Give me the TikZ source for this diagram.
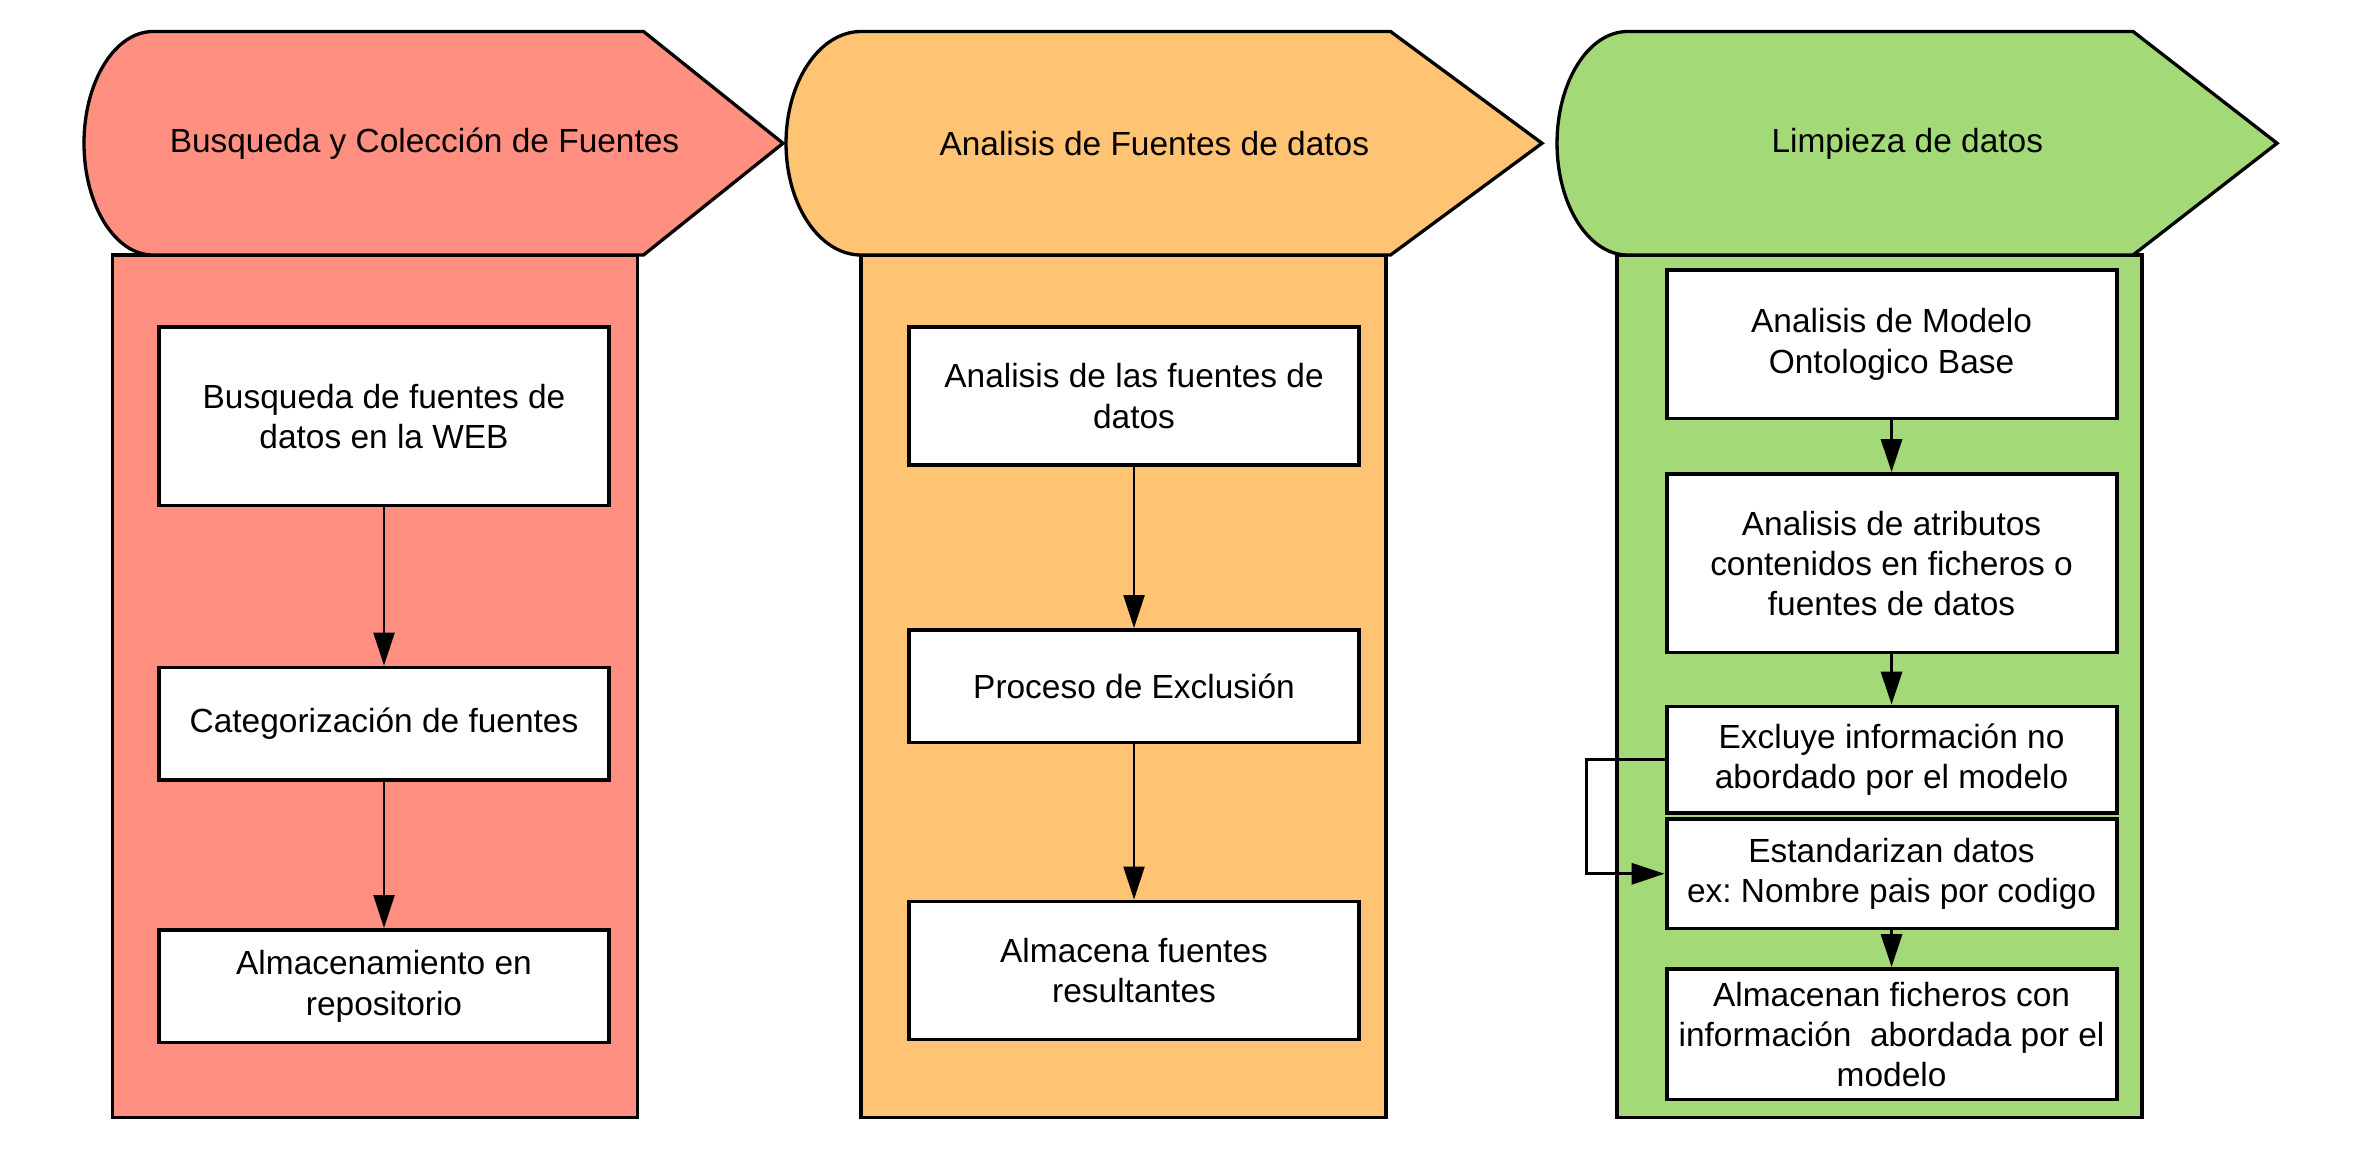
\documentclass[tikz,border=0pt]{standalone}
\usepackage{fontspec}
\setmainfont{Liberation Sans}
\usetikzlibrary{arrows.meta}
\definecolor{cred}{HTML}{FF8F80}
\definecolor{corange}{HTML}{FFC374}
\definecolor{cgreen}{HTML}{A3D977}
\frenchspacing
\begin{document}
\begin{tikzpicture}[x=1pt,y=-1pt,
  every node/.style={font=\fontsize{22.3}{26.8}\selectfont},
  procbox/.style={draw, line width=2.6pt, fill=white, minimum width=300pt, inner sep=0pt, align=center},
  hdr/.style={draw, line width=2.2pt, line join=miter},
  panel/.style={draw, line width=2.2pt},
  flow/.style={-{Triangle[length=22pt,width=14pt]}, line width=1.5pt},
  gflow/.style={flow, line width=2.2pt}]
\useasboundingbox (0,0) rectangle (1569.3,766);
% panels
\draw[panel, fill=cred] (75,170) rectangle (425,745);
\draw[panel, fill=corange] (574,170) rectangle (924,745);
\draw[panel, fill=cgreen] (1078,170) rectangle (1428,745);
% headers
\draw[hdr, fill=cred] (102,21) -- (429,21) -- (522,95.5) -- (429,170) -- (102,170)
  arc[start angle=90, end angle=270, x radius=46, y radius=74.5] -- cycle;
\draw[hdr, fill=corange] (574,21) -- (927,21) -- (1028,95.5) -- (927,170) -- (574,170)
  arc[start angle=90, end angle=270, x radius=50, y radius=74.5] -- cycle;
\draw[hdr, fill=cgreen] (1085,21) -- (1422,21) -- (1518,95.5) -- (1422,170) -- (1085,170)
  arc[start angle=90, end angle=270, x radius=47, y radius=74.5] -- cycle;
\node (h1) at (283,96) {Busqueda y Colección de Fuentes};
\node (h2) at (769.5,96) {Analisis de Fuentes de datos};
\node (h3) at (1271.5,96) {Limpieza de datos};
% red column
\node[procbox, minimum height=119pt] (r1) at (256,277.5) {Busqueda de fuentes de\\datos en la WEB};
\node[procbox, minimum height=75pt] (r2) at (256,482.5) {Categorización de fuentes};
\node[procbox, minimum height=75pt] (r3) at (256,657.5) {Almacenamiento en\\repositorio};
% orange column
\node[procbox, minimum height=92pt] (o1) at (756,264) {Analisis de las fuentes de\\datos};
\node[procbox, minimum height=75pt] (o2) at (756,457.5) {Proceso de Exclusión};
\node[procbox, minimum height=92pt] (o3) at (756,647) {Almacena fuentes\\resultantes};
% green column
\node[procbox, minimum height=99pt] (g1) at (1261,229.5) {Analisis de Modelo\\Ontologico Base};
\node[procbox, minimum height=119pt] (g2) at (1261,375.5) {Analisis de atributos\\contenidos en ficheros o\\fuentes de datos};
\node[procbox, minimum height=71pt] (g3) at (1261,506.5) {Excluye información no\\abordado por el modelo};
\node[procbox, minimum height=73pt] (g4) at (1261,582.5) {Estandarizan datos\\ex: Nombre pais por codigo};
\node[procbox, minimum height=87pt] (g5) at (1261,689.5) {Almacenan ficheros con\\información\ \ abordada por el\\modelo};
% connectors
\draw[flow] (r1) -- (r2);
\draw[flow] (r2) -- (r3);
\draw[flow] (o1) -- (o2);
\draw[flow] (o2) -- (o3);
\draw[gflow] (g1) -- (g2);
\draw[gflow] (g2) -- (g3);
\draw[gflow] (g4) -- (g5);
\draw[gflow] (g3.west) -- ++(-52,0) |- (g4.west);
\end{tikzpicture}
\end{document}
